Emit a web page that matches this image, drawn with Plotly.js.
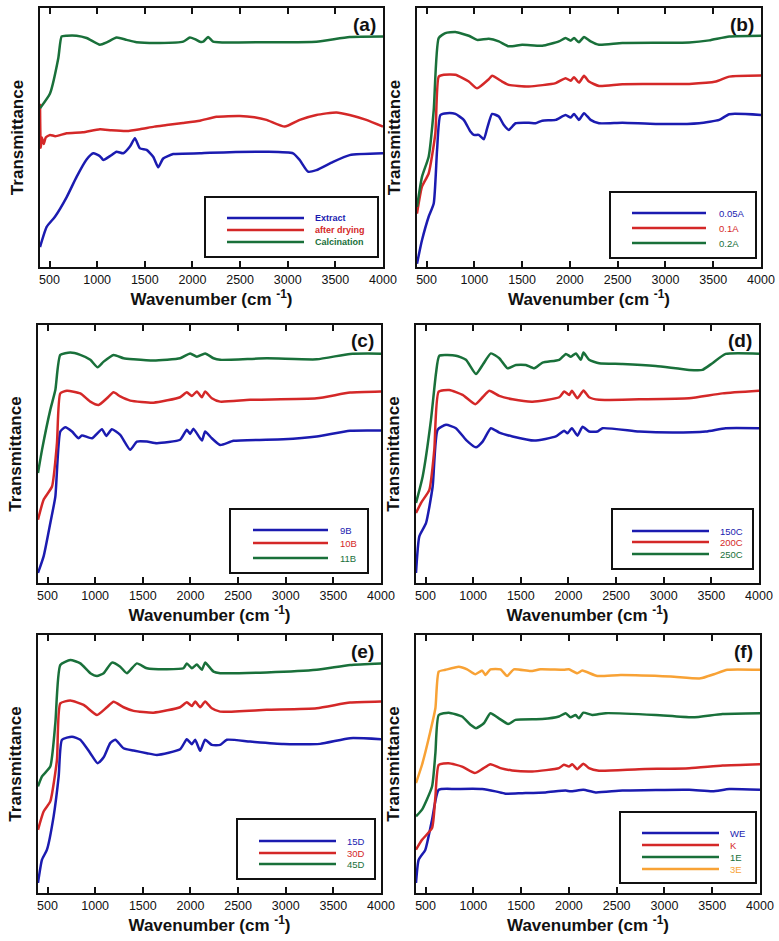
<!DOCTYPE html>
<html>
<head>
<meta charset="utf-8">
<script src="https://cdn.plot.ly/plotly-3.0.1.min.js"></script>
<style>
html, body { margin: 0; padding: 0; background: #fff; }
#chart { width: 779px; height: 941px; }
</style>
</head>
<body>
<div id="chart"></div>
<script>
/**
 * FTIR spectra, 6 panels (a)-(f)
 * x = wavenumber (cm-1), y = transmittance (arbitrary, offset curves)
 */

// (a) preparation stages
const extractX = [400, 470, 557, 680, 784, 889, 959, 1029, 1064, 1134, 1204, 1274, 1344, 1396, 1449, 1519, 1588, 1641, 1693, 1798, 2078, 2183, 2777, 3056, 3126, 3213, 3301, 3476, 3650, 4000];
const extractY = [7.7, 15.5, 19.4, 27, 34.8, 41.5, 43.9, 42.8, 41.3, 42.8, 44.5, 43.9, 46.5, 49.7, 45.8, 45.2, 42.6, 38.5, 41.9, 43.6, 43.9, 44.1, 44.5, 43.9, 41.3, 36.8, 37.4, 40.6, 43.2, 43.9];
const dryingX = [400, 408, 420, 440, 460, 505, 560, 680, 850, 1029, 1150, 1309, 1449, 1600, 1728, 1900, 2078, 2252, 2497, 2650, 2777, 2969, 3126, 3301, 3511, 3650, 3825, 4000];
const dryingY = [63, 46, 50, 47.5, 50, 51, 50.5, 51.6, 52, 53.2, 52.8, 52.5, 53.2, 54.2, 54.8, 55.6, 56.5, 58, 58.3, 57.8, 56.8, 54.2, 56.8, 58.7, 59.7, 58.7, 56.8, 54.2];
const calcX = [400, 505, 592, 627, 680, 784, 889, 1029, 1100, 1204, 1309, 1414, 1658, 1903, 1973, 2025, 2078, 2113, 2165, 2217, 2322, 2777, 3301, 3650, 4000];
const calcY = [61.3, 67, 80.6, 89, 89.3, 89.3, 88.4, 85.8, 86.7, 88.6, 87.7, 86.8, 86.5, 87, 88.6, 88, 87, 87, 88.8, 87, 86.7, 86.8, 87, 88.8, 89];

// (b) A series
const a005X = [400, 452, 522, 575, 610, 645, 715, 802, 889, 959, 994, 1046, 1099, 1134, 1186, 1256, 1309, 1361, 1431, 1571, 1641, 1711, 1851, 1955, 2008, 2043, 2095, 2148, 2217, 2305, 2550, 2899, 3353, 3563, 3668, 4000];
const a005Y = [1.3, 10.3, 19.4, 24.5, 45.2, 58.7, 59.4, 59.1, 56.8, 52.3, 51, 51, 49.3, 53.5, 59.1, 58.1, 54.8, 52.9, 55.5, 55.7, 55.5, 56.5, 56.8, 58.7, 57.7, 59.1, 56.8, 59.4, 56.8, 55.5, 55.7, 55.2, 55.5, 56.8, 59, 58.7];
const a01X = [400, 452, 522, 592, 627, 680, 802, 942, 1029, 1151, 1186, 1291, 1361, 1571, 1851, 1955, 2008, 2043, 2095, 2148, 2200, 2305, 2550, 3249, 3528, 3668, 4000];
const a01Y = [20.6, 31, 36.1, 51.6, 73.5, 74.2, 74.2, 71.6, 69, 72.5, 73.8, 71.6, 70.3, 69.7, 71, 72.9, 71.9, 73.3, 71.2, 73.8, 71.6, 69.9, 70.6, 70.7, 71.6, 73.5, 73.9];
const a02X = [400, 452, 522, 575, 627, 697, 802, 942, 1029, 1151, 1256, 1361, 1501, 1711, 1885, 1955, 2008, 2043, 2095, 2148, 2217, 2305, 2550, 3249, 3458, 3668, 4000];
const a02Y = [23.2, 34.8, 42.6, 60.6, 88.4, 90.3, 90.7, 89.3, 87.7, 88.1, 87.1, 85.2, 85.8, 85.4, 87.1, 88.4, 87.4, 88.4, 86.8, 88.8, 87.1, 85.8, 86.5, 86.7, 87.5, 89, 89.3];

// (c) B series
const b9X = [400, 459, 529, 582, 634, 687, 757, 826, 861, 966, 1071, 1117, 1176, 1263, 1368, 1438, 1543, 1648, 1892, 1962, 1997, 2031, 2120, 2154, 2224, 2312, 2452, 2976, 3325, 3675, 4000];
const b9Y = [3.9, 10.3, 23.2, 33.5, 58.7, 60.4, 58.7, 56.1, 57.2, 56.1, 59.6, 57, 59.6, 57.4, 51.6, 54.8, 54.8, 54.2, 55.5, 59.4, 57.8, 59.8, 55.2, 58.7, 56.1, 53.5, 55.1, 55.7, 56.8, 59, 59.1];
const b10X = [400, 459, 547, 599, 634, 704, 844, 949, 1036, 1123, 1193, 1263, 1368, 1613, 1892, 1962, 2015, 2067, 2120, 2154, 2224, 2312, 2626, 3325, 3675, 4000];
const b10Y = [24.5, 32.3, 37.4, 54.2, 73.5, 74.5, 73.5, 70.3, 69, 71.6, 73.9, 72.3, 70.7, 69.9, 72, 73.9, 72.5, 74.2, 72, 74.2, 71.6, 70.3, 71, 71.6, 73.8, 74.2];
const b11X = [400, 442, 529, 582, 634, 739, 844, 949, 1026, 1089, 1193, 1298, 1403, 1613, 1892, 1997, 2067, 2154, 2242, 2312, 2801, 3325, 3675, 4000];
const b11Y = [42.6, 51.6, 67.1, 74.8, 88.4, 89.3, 88.4, 86.5, 83.6, 85.8, 88.4, 87.1, 86.7, 86.2, 87.1, 89, 87.7, 89, 87.1, 86.5, 87.1, 86.7, 88.8, 88.9];

// (d) C series
const c150X = [400, 435, 505, 575, 627, 715, 819, 924, 1029, 1099, 1186, 1274, 1413, 1641, 1868, 1955, 1990, 2036, 2095, 2148, 2217, 2305, 2357, 2742, 3091, 3441, 3650, 4000];
const c150Y = [3.9, 18.1, 23.2, 37.4, 59.4, 61.3, 60, 55.5, 52.6, 54.8, 60, 58.3, 56.8, 55.2, 56.8, 59, 58, 60, 57.1, 60.6, 58.7, 58.7, 60, 58.7, 58.3, 58.7, 60, 60];
const c200X = [400, 452, 540, 592, 638, 750, 889, 1022, 1099, 1169, 1274, 1413, 1623, 1903, 1955, 2008, 2036, 2095, 2158, 2217, 2322, 2742, 3266, 3616, 4000];
const c200Y = [27.1, 31, 36.1, 51.6, 74.2, 74.8, 72.9, 69.3, 72, 74.5, 72.5, 71.2, 70.3, 72, 74.2, 72.9, 74.5, 71.6, 74.6, 72, 71, 71.2, 71.6, 73.5, 74.5];
const c250X = [400, 470, 557, 610, 645, 819, 924, 1029, 1099, 1186, 1274, 1361, 1449, 1553, 1641, 1728, 1903, 1973, 2025, 2078, 2130, 2158, 2217, 2322, 2567, 2917, 3266, 3406, 3511, 3650, 4000];
const c250Y = [31, 41.3, 63.2, 81.3, 88.1, 88.1, 86.5, 81, 84.5, 89, 87.1, 83.2, 84.5, 84.5, 83.2, 85.4, 86.5, 88.8, 87.7, 89, 86.5, 89.3, 86.5, 85.2, 84.9, 84.1, 82.6, 82.6, 85.2, 88.8, 88.9];

// (e) D series
const d15X = [400, 442, 494, 564, 617, 652, 757, 844, 949, 1026, 1089, 1158, 1211, 1298, 1403, 1543, 1648, 1892, 1962, 2015, 2050, 2102, 2154, 2224, 2312, 2382, 2626, 2976, 3360, 3675, 4000];
const d15Y = [3.9, 12.9, 16.8, 29.7, 45.2, 59.4, 60.6, 59.4, 54.2, 50.3, 52.6, 58.1, 59.4, 56.1, 55.2, 54.2, 53.5, 55.7, 59.6, 57.7, 59.4, 55.1, 59.4, 57.4, 57.4, 59.4, 58.7, 57.8, 57.8, 60, 59.6];
const d30X = [400, 459, 529, 599, 634, 739, 879, 1019, 1123, 1193, 1298, 1403, 1613, 1892, 1962, 2015, 2050, 2102, 2154, 2224, 2312, 2801, 3325, 3675, 4000];
const d30Y = [24.5, 31.6, 35.5, 51.6, 73.5, 74.6, 72.9, 69, 72, 74.1, 72, 70.6, 69.9, 72, 73.9, 72.5, 74.2, 72, 74.2, 71.6, 70.3, 71, 71.6, 73.8, 74.2];
const d45X = [400, 442, 529, 582, 634, 739, 844, 949, 1019, 1089, 1176, 1263, 1333, 1438, 1543, 1753, 1927, 1962, 2015, 2067, 2120, 2154, 2242, 2312, 2801, 3325, 3675, 4000];
const d45Y = [41.3, 45.2, 49, 65.8, 88.4, 90.3, 89, 85.2, 84.1, 85.2, 89.3, 87.7, 85.2, 89, 87.1, 86.7, 87.1, 89, 87.1, 88.6, 86.5, 89.3, 85.8, 85.2, 85.5, 86.5, 88.4, 89];

// (f) E series
const weX = [400, 428, 498, 568, 638, 812, 1092, 1232, 1337, 1511, 1756, 1966, 2018, 2151, 2280, 2560, 3259, 3504, 3679, 4000];
const weY = [3.9, 12.9, 16.8, 28.4, 40, 40.3, 40.3, 39.4, 38.5, 38.7, 39, 39.7, 39.4, 40, 39, 39.7, 40, 39.4, 40.3, 40];
const kX = [400, 463, 568, 603, 638, 742, 882, 1015, 1092, 1179, 1284, 1406, 1616, 1896, 1948, 2000, 2035, 2088, 2151, 2210, 2315, 2735, 3259, 3609, 4000];
const kY = [16.8, 20.6, 25.2, 37.4, 49.7, 50.3, 49, 46.5, 48, 49.9, 48.4, 47.5, 47.1, 48.4, 49.7, 49, 49.9, 48, 50.1, 48.4, 47.4, 48, 48.4, 49.4, 49.9];
const e1X = [400, 463, 568, 603, 638, 742, 882, 970, 1029, 1110, 1179, 1267, 1365, 1441, 1721, 1896, 1966, 2018, 2070, 2105, 2151, 2245, 2385, 2909, 3294, 3609, 4000];
const e1Y = [29.7, 32.3, 41.3, 54.2, 69, 69.9, 68.4, 65.2, 63.9, 65.8, 69.7, 67.7, 65.5, 67.1, 67.4, 68.4, 69.7, 68.1, 69, 67.7, 69.9, 69, 69.7, 69, 68.1, 69.4, 69.7];
const e3X = [400, 463, 550, 603, 638, 708, 847, 935, 1022, 1092, 1127, 1179, 1284, 1354, 1424, 1598, 1703, 1948, 2000, 2088, 2140, 2297, 2542, 3066, 3379, 3519, 3659, 4000];
const e3Y = [42.6, 49.7, 62.6, 71.6, 85.8, 86.5, 87.7, 86.7, 84.8, 86.2, 84.5, 86.7, 86.7, 84.1, 86.7, 86, 86.7, 86.5, 86.7, 85.2, 86.2, 84.1, 84.5, 83.9, 83.2, 84.8, 86.5, 86.5];

const xTicks = [500, 1000, 1500, 2000, 2500, 3000, 3500, 4000];

const W = 779, H = 941;
const BLUE = '#1b1bb0', RED = '#d42828', GREEN = '#19703a', ORANGE = '#f8a235';
const FONT = 'Liberation Sans, Arial, sans-serif';

// pixel -> paper helpers
const px = v => v / W;
const py = v => 1 - v / H;

/**
 * panel layout in pixels: frame [left, right, top, bottom]
 * legend: box [l, r, t, b], sample line [x0, x1], text x, row y's
 */
const panels = [
	{
		tag: '(a)', frame: [40, 383, 8, 267],
		legend: { box: [205, 378, 197, 257], line: [227, 304], text: 313, rows: [218, 230, 242], bold: true },
		series: [[extractX, extractY, 'Extract', BLUE], [dryingX, dryingY, 'after drying', RED], [calcX, calcY, 'Calcination', GREEN]],
	},
	{
		tag: '(b)', frame: [417, 761, 8, 267],
		legend: { box: [610, 756, 192, 258], line: [632, 706], text: 717, rows: [213, 228, 243] },
		series: [[a005X, a005Y, '0.05A', BLUE], [a01X, a01Y, '0.1A', RED], [a02X, a02Y, '0.2A', GREEN]],
	},
	{
		tag: '(c)', frame: [38, 381, 325, 583],
		legend: { box: [230, 368, 509, 573], line: [253, 328], text: 338, rows: [530, 543, 558] },
		series: [[b9X, b9Y, '9B', BLUE], [b10X, b10Y, '10B', RED], [b11X, b11Y, '11B', GREEN]],
	},
	{
		tag: '(d)', frame: [416, 759, 325, 583],
		legend: { box: [612, 753, 509, 569], line: [632, 709], text: 718, rows: [531, 542, 554] },
		series: [[c150X, c150Y, '150C', BLUE], [c200X, c200Y, '200C', RED], [c250X, c250Y, '250C', GREEN]],
	},
	{
		tag: '(e)', frame: [38, 381, 635, 893],
		legend: { box: [237, 375, 819, 879], line: [259, 336], text: 345, rows: [841, 853, 864] },
		series: [[d15X, d15Y, '15D', BLUE], [d30X, d30Y, '30D', RED], [d45X, d45Y, '45D', GREEN]],
	},
	{
		tag: '(f)', frame: [416, 760, 635, 893],
		legend: { box: [620, 756, 812, 883], line: [642, 719], text: 728, rows: [833, 845, 857, 869] },
		series: [[weX, weY, 'WE', BLUE], [kX, kY, 'K', RED], [e1X, e1Y, '1E', GREEN], [e3X, e3Y, '3E', ORANGE]],
	},
];

const data = [];
const layout = {
	width: W,
	height: H,
	margin: { l: 0, r: 0, t: 0, b: 0 },
	paper_bgcolor: '#fff',
	plot_bgcolor: '#fff',
	showlegend: false,
	font: { family: FONT, color: '#111' },
	shapes: [],
	annotations: [],
};

panels.forEach((p, i) => {
	const n = i === 0 ? '' : String(i + 1);
	const [l, r, t, b] = p.frame;

	layout['xaxis' + n] = {
		domain: [px(l), px(r)],
		anchor: 'y' + n,
		range: [400, 4000],
		tickvals: xTicks,
		ticks: 'inside',
		ticklen: 6,
		tickwidth: 2,
		tickcolor: '#111',
		showline: true,
		linewidth: 2,
		linecolor: '#111',
		mirror: 'ticks',
		showgrid: false,
		zeroline: false,
		tickfont: { family: FONT, size: 12.5, color: '#111' },
		title: {
			text: '<b>Wavenumber (cm <sup>-1</sup>)</b>',
			font: { family: FONT, size: 17, color: '#111' },
			standoff: 4,
		},
	};
	layout['yaxis' + n] = {
		domain: [py(b), py(t)],
		anchor: 'x' + n,
		range: [0, 100],
		showticklabels: false,
		ticks: '',
		showline: true,
		linewidth: 2,
		linecolor: '#111',
		mirror: true,
		showgrid: false,
		zeroline: false,
		title: {
			text: '<b>Transmittance</b>',
			font: { family: FONT, size: 17, color: '#111' },
			standoff: 10,
		},
	};

	// spectra
	p.series.forEach(([x, y, name, color]) => {
		data.push({
			type: 'scatter',
			mode: 'lines',
			xaxis: 'x' + n,
			yaxis: 'y' + n,
			x, y, name,
			line: { color, width: 2.5, shape: 'spline', smoothing: 0.5 },
			hoverinfo: 'skip',
		});
	});

	// panel tag
	layout.annotations.push({
		xref: 'paper', yref: 'paper',
		x: px(r - 5), y: py(t + 16),
		xanchor: 'right', yanchor: 'middle',
		text: '<b>' + p.tag + '</b>',
		showarrow: false,
		font: { family: FONT, size: 19, color: '#111' },
	});

	// boxed legend inside the lower right
	const lg = p.legend;
	layout.shapes.push({
		type: 'rect', xref: 'paper', yref: 'paper',
		x0: px(lg.box[0]), x1: px(lg.box[1]), y0: py(lg.box[3]), y1: py(lg.box[2]),
		line: { color: '#111', width: 2 }, fillcolor: '#fff',
	});
	p.series.forEach(([, , name, color], k) => {
		const ry = lg.rows[k];
		layout.shapes.push({
			type: 'line', xref: 'paper', yref: 'paper',
			x0: px(lg.line[0]), x1: px(lg.line[1]), y0: py(ry), y1: py(ry),
			line: { color, width: 2.5 },
		});
		layout.annotations.push({
			xref: 'paper', yref: 'paper',
			x: px(lg.text), y: py(ry),
			xanchor: 'left', yanchor: 'middle',
			text: lg.bold ? '<b>' + name + '</b>' : name,
			showarrow: false,
			font: { family: FONT, size: lg.bold ? 9 : 9.5, color },
		});
	});
});

Plotly.newPlot('chart', data, layout, { displayModeBar: false, staticPlot: true });
</script>
</body>
</html>
